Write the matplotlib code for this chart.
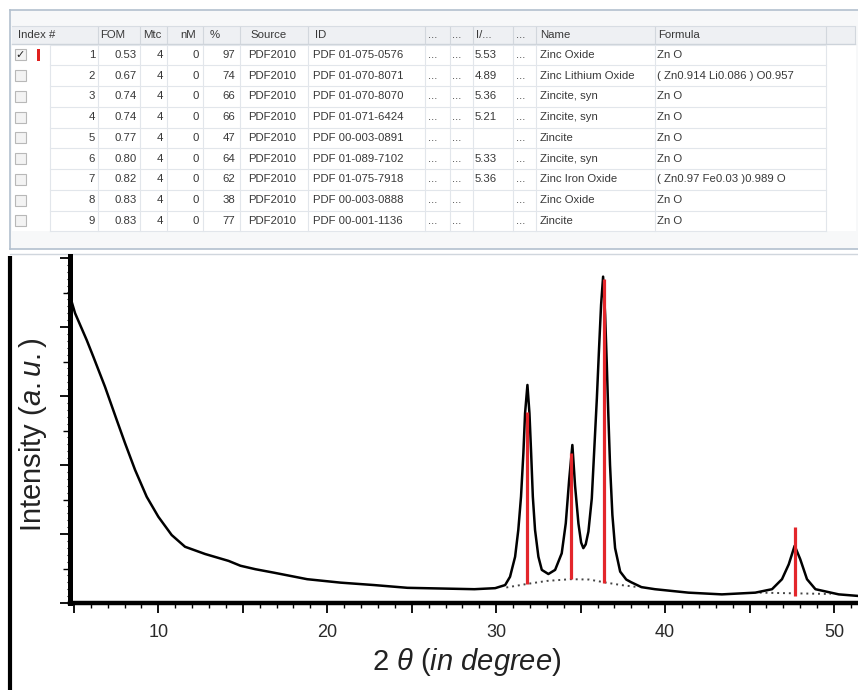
import matplotlib
matplotlib.use("Agg")
import matplotlib.pyplot as plt
from matplotlib.patches import Rectangle
from matplotlib.ticker import MultipleLocator, FuncFormatter

plt.rcParams['font.family'] = ['Liberation Sans', 'DejaVu Sans']
plt.rcParams['mathtext.fontset'] = 'custom'
plt.rcParams['mathtext.rm'] = 'Liberation Sans'
plt.rcParams['mathtext.it'] = 'Liberation Sans:italic'

# ---- search / match table ----
headers = ['Index #', 'FOM', 'Mtc', 'nM', '%', 'Source', 'ID', '...', '...', 'I/...', '...', 'Name', 'Formula']
index = [1, 2, 3, 4, 5, 6, 7, 8, 9]
fom = ['0.53', '0.67', '0.74', '0.74', '0.77', '0.80', '0.82', '0.83', '0.83']
mtc = [4, 4, 4, 4, 4, 4, 4, 4, 4]
nm = [0, 0, 0, 0, 0, 0, 0, 0, 0]
pct = [97, 74, 66, 66, 47, 64, 62, 38, 77]
source = ['PDF2010'] * 9
ids = ['PDF 01-075-0576', 'PDF 01-070-8071', 'PDF 01-070-8070', 'PDF 01-071-6424',
       'PDF 00-003-0891', 'PDF 01-089-7102', 'PDF 01-075-7918', 'PDF 00-003-0888',
       'PDF 00-001-1136']
i_ratio = ['5.53', '4.89', '5.36', '5.21', '', '5.33', '5.36', '', '']
names = ['Zinc Oxide', 'Zinc Lithium Oxide', 'Zincite, syn', 'Zincite, syn', 'Zincite',
         'Zincite, syn', 'Zinc Iron Oxide', 'Zinc Oxide', 'Zincite']
formulas = ['Zn O', '( Zn0.914 Li0.086 ) O0.957', 'Zn O', 'Zn O', 'Zn O', 'Zn O',
            '( Zn0.97 Fe0.03 )0.989 O', 'Zn O', 'Zn O']

# ---- XRD pattern ----
two_theta = [4.77, 4.87, 5.07, 5.76, 6.15, 6.84, 7.54, 8.03, 8.62, 9.31, 10.0, 10.79,
             11.58, 12.77, 14.16, 14.86, 15.74, 16.83, 18.81, 20.79, 22.77, 24.75, 26.73,
             28.71, 29.94, 30.53, 30.82, 31.12, 31.31, 31.47, 31.61, 31.71, 31.85, 31.97,
             32.07, 32.17, 32.30, 32.50, 32.70, 33.09, 33.49, 33.88, 34.12, 34.32, 34.51,
             34.67, 34.87, 35.03, 35.16, 35.30, 35.46, 35.66, 35.81, 35.96, 36.09, 36.21,
             36.33, 36.45, 36.55, 36.64, 36.74, 36.88, 37.04, 37.34, 37.70, 38.0, 38.6,
             39.4, 41.38, 43.36, 45.34, 46.33, 46.92, 47.32, 47.67, 48.0, 48.4, 48.9,
             50.28, 51.55]
intensity = [8.85, 8.73, 8.40, 7.62, 7.14, 6.27, 5.30, 4.63, 3.86, 3.08, 2.50, 1.97,
             1.63, 1.42, 1.22, 1.08, 0.98, 0.88, 0.69, 0.59, 0.52, 0.44, 0.42,
             0.40, 0.43, 0.52, 0.76, 1.34, 2.12, 3.08, 4.34, 5.50, 6.32, 5.50,
             4.34, 3.08, 2.12, 1.34, 0.96, 0.84, 0.96, 1.44, 2.31, 3.57, 4.58,
             3.40, 2.30, 1.75, 1.59, 1.70, 2.07, 3.03, 4.48, 5.93, 7.38, 8.64,
             9.46, 8.35, 6.90, 5.45, 4.00, 2.55, 1.59, 0.91, 0.68, 0.60, 0.46,
             0.40, 0.30, 0.25, 0.30, 0.40, 0.69, 1.12, 1.66, 1.27, 0.69, 0.40,
             0.25, 0.20]

# fitted background (dotted)
bg1_x = [30.6, 31.8, 33.0, 34.4, 35.5, 36.4, 37.4, 38.4]
bg1_y = [0.45, 0.55, 0.64, 0.69, 0.68, 0.60, 0.52, 0.46]
bg2_x = [45.6, 46.6, 47.7, 48.8, 49.8]
bg2_y = [0.30, 0.29, 0.28, 0.27, 0.26]

# reference sticks (PDF 01-075-0576)
stick_pos = [31.84, 34.45, 36.39, 47.71]
stick_base = [0.54, 0.69, 0.59, 0.20]
stick_top = [5.55, 4.35, 9.40, 2.19]

W, H = 858, 690
fig = plt.figure(figsize=(W / 100, H / 100), dpi=100)

# background axes in pixel coordinates for the table screenshot
bg = fig.add_axes([0, 0, 1, 1])
bg.set_xlim(0, W)
bg.set_ylim(H, 0)
bg.axis('off')

border = '#b3c0ce'
grid = '#e2e6eb'
txt = '#383838'
fs = 8.2

bg.add_patch(Rectangle((10, 10), W - 10, 239, facecolor='#f7f8f9', edgecolor='none'))
bg.add_patch(Rectangle((12, 26), W - 14, 205, facecolor='white', edgecolor='none'))
bg.add_patch(Rectangle((12, 26), W - 15, 18, facecolor='#eef0f3', edgecolor='none'))
bg.plot([10, W], [10, 10], color=border, lw=1.2)
bg.plot([10, 10], [10, 249], color=border, lw=1.2)
bg.plot([10, W], [249, 249], color=border, lw=1.2)
bg.plot([10, W], [254, 254], color='#d0d6dd', lw=1.0)
bg.plot([12, W - 3], [44, 44], color='#cdd3da', lw=1.0)
bg.plot([12, W - 3], [26, 26], color='#d8dde3', lw=0.8)

row_h = 20.75
row0 = 44.6
nrows = len(index)
seps = [50, 98, 140, 167, 203, 240, 308, 425, 450, 473, 513, 536, 655, 826]
for s in seps[1:] + [855]:
    bg.plot([s, s], [27, 43], color='#d2d7dd', lw=0.8)
for s in seps:
    bg.plot([s, s], [row0, row0 + nrows * row_h], color=grid, lw=0.8)
for r in range(nrows + 1):
    bg.plot([50, 826], [row0 + r * row_h] * 2, color=grid, lw=0.8)

head_x = [18, 100, 143, 180, 210, 250, 315, 428, 452, 476, 516, 540, 658]
for hx, h in zip(head_x, headers):
    bg.text(hx, 35, h, ha='left', va='center', fontsize=fs, color=txt)

for r in range(nrows):
    yc = row0 + (r + 0.5) * row_h
    bg.add_patch(Rectangle((15, yc - 5.5), 11, 11, facecolor='#f3f3f3',
                           edgecolor='#b8b8b8', lw=0.8))
    cells = [(95, 'right', str(index[r])), (137, 'right', fom[r]),
             (163, 'right', str(mtc[r])), (199, 'right', str(nm[r])),
             (235, 'right', str(pct[r])), (248, 'left', source[r]),
             (313, 'left', ids[r]), (428, 'left', '...'), (452, 'left', '...'),
             (475, 'left', i_ratio[r]), (516, 'left', '...'),
             (540, 'left', names[r]), (657, 'left', formulas[r])]
    for cx, ha, s in cells:
        bg.text(cx, yc, s, ha=ha, va='center', fontsize=fs, color=txt)
    if r == 0:
        bg.text(20.5, yc, '\u2713', ha='center', va='center', fontsize=8,
                color='#222222', family='DejaVu Sans')
        bg.add_patch(Rectangle((37, yc - 6), 3, 12, facecolor='#e0201e', edgecolor='none'))

# thick frame line on the left of the plot
bg.plot([10, 10], [256, H], color='black', lw=3.0, solid_capstyle='butt')

# ---- XRD plot ----
x0, y_base, y_top = 70, 603, 256
ax = fig.add_axes([x0 / W, (H - y_base) / H, (W - x0) / W, (y_base - y_top) / H])
ax.set_xlim(4.77, 51.42)
ax.set_ylim(0, (y_base - y_top) / 34.5)
ax.patch.set_alpha(0)

ax.plot(two_theta, intensity, color='black', lw=1.8, zorder=3)
ax.plot(bg1_x, bg1_y, color='#444444', lw=1.4, ls=(0, (1, 2)), zorder=2)
ax.plot(bg2_x, bg2_y, color='#444444', lw=1.4, ls=(0, (1, 2)), zorder=2)
ax.vlines(stick_pos, stick_base, stick_top, color='#e3262b', lw=2.3, zorder=4)

for side in ['top', 'right']:
    ax.spines[side].set_visible(False)
ax.spines['left'].set_linewidth(3.6)
ax.spines['bottom'].set_linewidth(3.2)

ax.xaxis.set_major_locator(MultipleLocator(5))
ax.xaxis.set_minor_locator(MultipleLocator(1))
ax.xaxis.set_major_formatter(FuncFormatter(lambda v, p: '%d' % v if v % 10 == 0 else ''))
ax.yaxis.set_major_locator(MultipleLocator(2))
ax.yaxis.set_minor_locator(MultipleLocator(1))
ax.tick_params(axis='x', which='major', direction='out', length=7, width=1.3,
               labelsize=13, labelcolor='#2a2a2a', pad=8)
ax.tick_params(axis='x', which='minor', direction='out', length=3.5, width=1.0)
ax.tick_params(axis='y', which='major', direction='out', length=7, width=1.3, labelleft=False)
ax.tick_params(axis='y', which='minor', direction='out', length=5, width=1.0)

sec = ax.secondary_yaxis('left')
sec.yaxis.set_major_locator(MultipleLocator(0.2))
sec.tick_params(length=2, width=0.8, labelleft=False)
sec.spines['left'].set_visible(False)

fig.text(33 / W, 1 - 435 / H, 'Intensity ($a.u.$)', rotation=90, ha='center', va='center',
         fontsize=21, color='#222222')
fig.text(467 / W, 1 - 662 / H, r'2 $\theta$ ($in\ degree$)', ha='center', va='center',
         fontsize=21, color='#222222')

fig.savefig('out.png', dpi=100)
